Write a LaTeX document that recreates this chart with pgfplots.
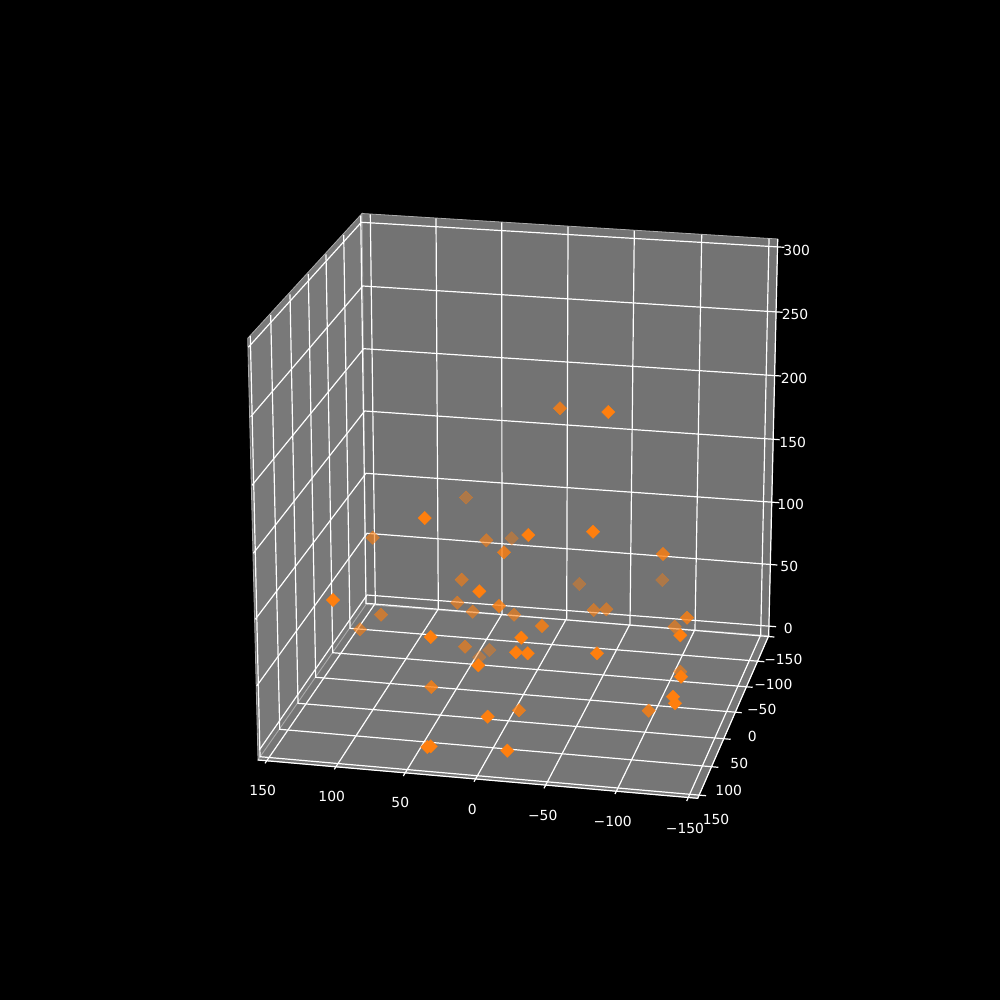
\documentclass[border=0pt]{standalone}
\usepackage{pgfplots}
\pgfplotsset{compat=1.18}
\usepackage{fontspec}
\setmainfont{DejaVu Sans}
\definecolor{paneL}{RGB}{121,121,121}
\definecolor{paneB}{RGB}{115,115,115}
\definecolor{paneF}{RGB}{118,118,118}
\definecolor{mplorange}{RGB}{255,127,14}
\definecolor{paneedge}{RGB}{170,170,170}
\pgfplotsset{
  gridl/.style={white,line width=0.6pt,no markers,line join=miter},
  pane/.style={line width=0.4pt,draw=paneedge,no markers},
  pts/.style={only marks,mark=square*,mark size=2.4pt,
     mark options={rotate=45,draw=mplorange,fill=mplorange,line width=0.1pt,draw opacity=#1,fill opacity=#1}},
}
\newcommand{\tk}[3]{\node[white,font=\fontsize{6.94pt}{8pt}\selectfont,inner sep=0pt,anchor=center] at (axis cs:#1,#2) {#3};}
\begin{document}
\begin{tikzpicture}
\begin{axis}[
  scale only axis,width=500pt,height=500pt,
  xmin=0,xmax=1000,ymin=0,ymax=1000,y dir=reverse,
  enlargelimits=false,
  axis line style={draw=none},
  xtick=\empty,ytick=\empty,
  axis background/.style={fill=black},
]
% panes
\addplot[pane,fill=paneL] coordinates {(247.7,338.3)(362,213.5)(366,604.5)(258,760)(247.7,338.3)};
\addplot[pane,fill=paneB] coordinates {(362,213.5)(777.7,239)(768.7,635.7)(366,604.5)(362,213.5)};
\addplot[pane,fill=paneF] coordinates {(258,760)(366,604.5)(768.7,635.7)(697.7,798.3)(258,760)};
% z levels
\addplot[gridl] coordinates {(248.3,347.3)(361.3,222.3)(784.3,247.3)};
\addplot[gridl] coordinates {(250.7,416.7)(362.7,286)(782.7,312.3)};
\addplot[gridl] coordinates {(252,485.3)(363.7,348.7)(781,376)};
\addplot[gridl] coordinates {(253.3,553.3)(364.7,411)(779.7,439.7)};
\addplot[gridl] coordinates {(255.3,619.3)(366,473.3)(779.3,502.7)};
\addplot[gridl] coordinates {(256.7,686)(367,533.3)(777.3,565)};
\addplot[gridl] coordinates {(259.3,750)(367,595)(776,626.7)};
% x levels
\addplot[gridl] coordinates {(370.3,214.3)(375.3,603.3)(265,763.3)};
\addplot[gridl] coordinates {(436,218.3)(438.3,609)(334.3,769.3)};
\addplot[gridl] coordinates {(501.7,222.3)(502,614)(403.3,776)};
\addplot[gridl] coordinates {(568,226.7)(566.7,618.3)(474,781.7)};
\addplot[gridl] coordinates {(634.3,230.7)(630,624)(544,788.3)};
\addplot[gridl] coordinates {(701.7,234.7)(695,629.3)(615,794)};
\addplot[gridl] coordinates {(769,238.7)(760.7,635)(686.7,801)};
% y levels
\addplot[gridl] coordinates {(360.7,215.7)(366,603.3)(774.3,637)};
\addplot[gridl] coordinates {(343.7,235)(350,628.3)(764.3,661.7)};
\addplot[gridl] coordinates {(326,254.3)(332.7,652.7)(752.7,687.3)};
\addplot[gridl] coordinates {(308.3,274)(315.7,677.3)(741.7,712.7)};
\addplot[gridl] coordinates {(290,294.3)(298,703.3)(730.7,739.3)};
\addplot[gridl] coordinates {(270.7,315)(279.7,729.3)(718.3,767.3)};
\addplot[gridl] coordinates {(250.3,336)(260,756.7)(706,795.7)};
% axis lines
\addplot[gridl] coordinates {(258,760)(697.7,798.3)(768.7,635.7)(777.7,239)};
% scatter, by depth shading
\addplot[pts=0.42] coordinates {(511.7,538.3)(489.3,650)(479.3,657.3)(662.3,580)(579.3,584)(466,497.5)};
\addplot[pts=0.6] coordinates {(372.7,537.7)(461.7,579.7)(472.7,611.7)(514,614.7)(381,614.7)(360,629.3)(465,646.7)(457.3,602.7)(486.3,540.3)(593.7,610)(606.3,609.3)(674.7,626.7)(680.3,671.7)};
\addplot[pts=0.8] coordinates {(504,552.3)(499,606)(431.3,687)(519,710.3)(663,554)(687,617.7)(542,626)(648.7,710.7)(560,408.3)};
\addplot[pts=1] coordinates {(424.7,518)(528.3,535)(479.3,591.3)(333,600)(430.7,637)(521.3,637.7)(516,652.3)(527.7,653.3)(478.3,665.3)(487.7,716.7)(427.3,747)(430.7,746.3)(507.3,750.7)(593,531.7)(680.3,635.3)(597,653.3)(681,676.7)(673,696.7)(675,703.3)(608.3,412)};
% tick labels
\tk{796.7}{250}{300}\tk{795}{314.3}{250}\tk{794}{378.3}{200}\tk{792.7}{442.3}{150}\tk{790.7}{504}{100}\tk{789.3}{566}{50}\tk{788.3}{628.3}{0}
\tk{262.7}{790}{150}\tk{331.7}{796}{100}\tk{400.3}{802}{50}\tk{472.3}{809.3}{0}\tk{542.7}{815}{−50}\tk{612.7}{821}{−100}\tk{685}{828.3}{−150}
\tk{783.3}{659}{−150}\tk{773.3}{684}{−100}\tk{761.7}{709}{−50}\tk{752.3}{736}{0}\tk{739.3}{763.3}{50}\tk{728.7}{790}{100}\tk{716}{819.3}{150}
\end{axis}
\end{tikzpicture}
\end{document}
